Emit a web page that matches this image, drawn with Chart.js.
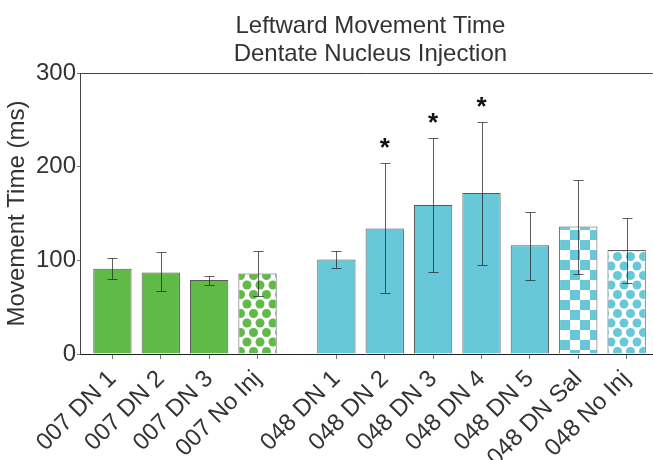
<!DOCTYPE html>
<html>
<head>
<meta charset="utf-8">
<script src="https://cdn.jsdelivr.net/npm/chart.js@4"></script>
<style>
body{margin:0;background:#fff;}
#wrap{width:653px;height:460px;position:relative;}
</style>
</head>
<body>
<div id="wrap"><canvas id="moveChart"></canvas></div>
<script>
// ===============================
// Data
// ===============================

const labels=['007 DN 1','007 DN 2','007 DN 3','007 No Inj','048 DN 1','048 DN 2','048 DN 3','048 DN 4','048 DN 5','048 DN Sal','048 No Inj'];
const means=[91,87,79,86,101,134,159,172,116,136,111];
const errLow=[80,67,74,62,92,65,88,95,79,85,76];
const errHigh=[103,109,83,110,110,204,231,248,152,186,145];
const significant=[false,false,false,false,false,true,true,true,false,false,false];
const yTicks=[0,100,200,300];

// ===============================
// Layout helpers
// ===============================

const GROUP_GAP=0.63;
const GREEN='#5fba47';
const CYAN='#67c8da';
const TEXT='#333333';
const FONT='"Liberation Sans", Arial, sans-serif';

let shift=0;
const xPos=labels.map((l,i)=>{
if(i>0 && l.slice(0,3)!==labels[i-1].slice(0,3)) shift+=GROUP_GAP;
return i+shift;
});

function dotPattern(color){
const c=document.createElement('canvas');
c.width=13;c.height=19;
const g=c.getContext('2d');
g.fillStyle='#fff';g.fillRect(0,0,13,19);
g.fillStyle=color;
[[0,0],[13,0],[6.5,9.5],[0,19],[13,19]].forEach(p=>{
g.beginPath();g.arc(p[0],p[1],4.5,0,Math.PI*2);g.fill();
});
return g.createPattern(c,'repeat');
}

function checkerPattern(color){
const c=document.createElement('canvas');
c.width=20;c.height=20;
const g=c.getContext('2d');
g.fillStyle='#fff';g.fillRect(0,0,20,20);
g.fillStyle=color;
g.fillRect(0,0,10,10);g.fillRect(10,10,10,10);
return g.createPattern(c,'repeat');
}

const fills=labels.map(l=>{
const col=l.startsWith('007')?GREEN:CYAN;
if(l.includes('No Inj')) return dotPattern(col);
if(l.includes('Sal')) return checkerPattern(col);
return col;
});

// ===============================
// Plugins: error bars, stars, title, top frame
// ===============================

const errorBars={
id:'errorBars',
afterDatasetsDraw(chart){
const {ctx,scales:{y}}=chart;
const meta=chart.getDatasetMeta(0);
ctx.save();
meta.data.forEach((bar,i)=>{
const cx=Math.round(bar.x)+0.5;
const top=Math.round(y.getPixelForValue(errHigh[i]))+0.5;
const bot=Math.round(y.getPixelForValue(errLow[i]))+0.5;
ctx.strokeStyle='rgba(40,40,40,0.75)';
ctx.lineWidth=1;
ctx.beginPath();
ctx.moveTo(cx,top);ctx.lineTo(cx,bot);
ctx.moveTo(cx-5,top);ctx.lineTo(cx+5,top);
ctx.moveTo(cx-5,bot);ctx.lineTo(cx+5,bot);
ctx.stroke();
if(significant[i]){
ctx.fillStyle='#111';
ctx.font='bold 26px '+FONT;
ctx.textAlign='center';
ctx.textBaseline='alphabetic';
ctx.fillText('*',bar.x,top-23+15);
}
});
ctx.restore();
}
};

const frameAndTitle={
id:'frameAndTitle',
afterDraw(chart){
const {ctx,chartArea:a}=chart;
ctx.save();
ctx.strokeStyle='#444';
ctx.lineWidth=1;
ctx.beginPath();
ctx.moveTo(a.left,Math.round(a.top)+0.5);
ctx.lineTo(a.right,Math.round(a.top)+0.5);
ctx.stroke();
ctx.fillStyle=TEXT;
ctx.font='24px '+FONT;
ctx.textAlign='center';
ctx.textBaseline='alphabetic';
const cx=(a.left+a.right)/2+4;
ctx.fillText('Leftward Movement Time',cx,33);
ctx.fillText('Dentate Nucleus Injection',cx,61);
ctx.restore();
}
};

// ===============================
// Chart
// ===============================

const moveCtx=document.getElementById('moveChart');

new Chart(moveCtx,{

type:'bar',

data:{
datasets:[{
data:means.map((v,i)=>({x:xPos[i],y:v})),
backgroundColor:fills,
borderColor:'rgba(60,60,60,0.85)',
borderWidth:1,
barPercentage:0.88,
categoryPercentage:0.9
}]
},

options:{
responsive:true,
maintainAspectRatio:false,
animation:false,
layout:{padding:{top:73,left:0,right:0,bottom:0}},
plugins:{
legend:{display:false},
tooltip:{enabled:false}
},
scales:{
x:{
type:'linear',
offset:false,
min:-0.67,
max:xPos[xPos.length-1]+0.54,
afterBuildTicks:s=>{s.ticks=xPos.map(v=>({value:v}));},
afterFit:s=>{s.height=106;},
ticks:{
autoSkip:false,
minRotation:45,
maxRotation:45,
padding:6,
color:TEXT,
font:{family:FONT,size:24},
callback:(v,i)=>labels[i]
},
grid:{display:true,offset:false,drawOnChartArea:false,tickLength:5,color:'#777'},
border:{color:'#222',width:1}
},
y:{
min:0,
max:300,
afterBuildTicks:s=>{s.ticks=yTicks.map(v=>({value:v}));},
afterFit:s=>{s.width=80;},
ticks:{
padding:1,
color:TEXT,
font:{family:FONT,size:24}
},
grid:{display:true,drawOnChartArea:false,tickLength:3,color:'#777'},
border:{color:'#444',width:1},
title:{
display:true,
text:'Movement Time (ms)',
color:TEXT,
font:{family:FONT,size:24},
padding:{top:3,bottom:3}
}
}
}
},

plugins:[errorBars,frameAndTitle]

});
</script>
</body>
</html>
